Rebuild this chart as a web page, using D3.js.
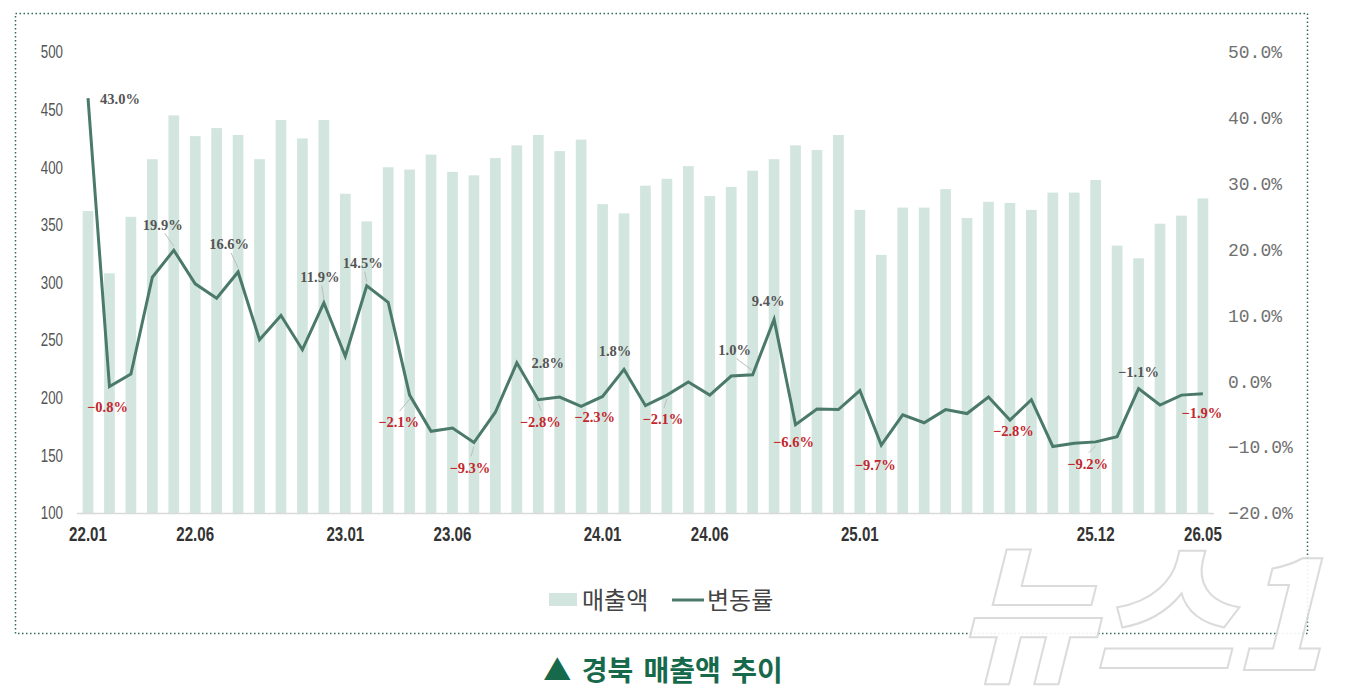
<!DOCTYPE html>
<html><head><meta charset="utf-8">
<script src="https://cdn.jsdelivr.net/npm/d3@7"></script>
<style>
html,body{margin:0;padding:0;background:#fff;}
svg{display:block;}
</style></head>
<body>
<svg id="c" width="1348" height="688"></svg>
<script>
const months = ["22.01","22.02","22.03","22.04","22.05","22.06","22.07","22.08","22.09","22.10","22.11","22.12",
"23.01","23.02","23.03","23.04","23.05","23.06","23.07","23.08","23.09","23.10","23.11","23.12",
"24.01","24.02","24.03","24.04","24.05","24.06","24.07","24.08","24.09","24.10","24.11","24.12",
"25.01","25.02","25.03","25.04","25.05","25.06","25.07","25.08","25.09","25.10","25.11","25.12",
"26.01","26.02","26.03","26.04","26.05"];
const sales = [362,308,357,407,445,427,434,428,407,441,425,441,
377,353,400,398,411,396,393,408,419,428,414,424,
368,360,384,390,401,375,383,397,407,419,415,428,
363,324,365,365,381,356,370,369,363,378,378,389,
332,321,351,358,373];
const rate = [43.0,-0.8,1.1,15.8,19.9,14.8,12.6,16.6,6.3,10.0,4.8,11.9,
3.8,14.5,12.0,-2.1,-7.6,-7.1,-9.3,-4.7,2.8,-2.8,-2.4,-3.8,
-2.3,1.8,-3.7,-2.1,-0.1,-2.1,0.8,1.0,9.4,-6.6,-4.2,-4.3,
-1.4,-9.7,-5.1,-6.3,-4.3,-4.9,-2.4,-5.9,-2.8,-9.9,-9.4,-9.2,
-8.4,-1.1,-3.6,-2.1,-1.9];
const xTickLabels = ["22.01","22.06","23.01","23.06","24.01","24.06","25.01","25.12","26.05"];
const leftTicks = [100,150,200,250,300,350,400,450,500];
const rightTicks = [-20,-10,0,10,20,30,40,50];
const labeledIdx = [0,1,4,7,11,13,15,18,20,21,24,25,27,31,32,33,37,44,47,49,52];

// label styling (offsets from point, leader flag)
const labelStyle = {
 0:{dx:32,dy:3}, 1:{dx:-2,dy:22}, 4:{dx:-11,dy:-24,lead:true}, 7:{dx:-9,dy:-26,lead:true},
 11:{dx:-4,dy:-24,lead:true}, 13:{dx:-4,dy:-21,lead:true}, 15:{dx:-11,dy:29,lead:true},
 18:{dx:-4,dy:27,lead:true}, 20:{dx:31,dy:2}, 21:{dx:2,dy:24,lead:true}, 24:{dx:-8,dy:22},
 25:{dx:-9,dy:-17}, 27:{dx:-4,dy:26,lead:true}, 31:{dx:-18,dy:-23,lead:true}, 32:{dx:-6,dy:-17},
 33:{dx:-2,dy:19}, 37:{dx:-6,dy:22}, 44:{dx:-18,dy:33}, 47:{dx:-8,dy:24,lead:true},
 49:{dx:0,dy:-15}, 52:{dx:-1,dy:21}
};

const svg = d3.select("#c");

// frame
svg.append("rect").attr("x",15.5).attr("y",13.5).attr("width",1292).attr("height",620)
  .attr("fill","none").attr("stroke","#2f6b5b").attr("stroke-width",1.5).attr("stroke-dasharray","1.5,2.5");

// watermark
svg.append("text").attr("x",1140).attr("y",670).attr("text-anchor","middle")
  .attr("font-family","Noto Sans CJK KR").attr("font-weight","900").attr("font-style","italic")
  .attr("font-size",150).attr("fill","#fff").attr("stroke","#d8d8d8").attr("stroke-width",2)
  .attr("opacity",0.9).text("뉴스1");

const x = d3.scaleBand().domain(months).range([77.3,1213.6]).paddingInner(0.5).paddingOuter(0.25);
const yL = d3.scaleLinear().domain([100,500]).range([513,52]);
const yR = d3.scaleLinear().domain([-20,50]).range([513,52]);
const cx = i => x(months[i]) + x.bandwidth()/2;

// bars
svg.append("g").selectAll("rect").data(sales).join("rect")
  .attr("x",(d,i)=>x(months[i])).attr("width",x.bandwidth())
  .attr("y",d=>yL(d)).attr("height",d=>yL(100)-yL(d))
  .attr("fill","#d2e6df");

// baseline
svg.append("line").attr("x1",77).attr("x2",1214).attr("y1",513.5).attr("y2",513.5)
  .attr("stroke","#d9d9d9").attr("stroke-width",1.5);

// left axis
const gL = svg.append("g").attr("transform","translate(63,0)")
  .call(d3.axisLeft(yL).tickValues(leftTicks).tickSize(0).tickPadding(0));
gL.select(".domain").remove();
gL.selectAll("text").attr("font-family","'Liberation Sans',sans-serif")
  .attr("font-size",18).attr("fill","#555").attr("transform","scale(0.74,1)");

// right axis
const gR = svg.append("g").attr("transform","translate(1226,0)")
  .call(d3.axisRight(yR).tickValues(rightTicks).tickSize(0).tickPadding(2).tickFormat(d=>d3.format(".1f")(d)+"%"));
gR.select(".domain").remove();
gR.selectAll("text").attr("font-family","'Liberation Mono','DejaVu Sans Mono',monospace")
  .attr("font-size",18).attr("fill","#707070");

// x axis
const gX = svg.append("g").attr("transform","translate(0,514)")
  .call(d3.axisBottom(x).tickValues(xTickLabels).tickSize(0).tickPadding(12));
gX.select(".domain").remove();
gX.selectAll("text").attr("font-family","'Liberation Sans',sans-serif")
  .attr("font-weight","bold").attr("font-size",21).attr("fill","#333")
  .style("transform","scaleX(0.72)").style("transform-box","fill-box").style("transform-origin","center");

// line
const line = d3.line().x((d,i)=>cx(i)).y(d=>yR(d));
svg.append("path").datum(rate).attr("d",line).attr("fill","none")
  .attr("stroke","#4b7a6b").attr("stroke-width",3).attr("stroke-linejoin","miter");

// data labels
const gLab = svg.append("g");
labeledIdx.forEach(i=>{
  const s = labelStyle[i];
  const px = cx(i), py = yR(rate[i]);
  const lx = px + s.dx, ly = py + s.dy;
  if (s.lead) {
    const up = s.dy < 0;
    gLab.append("line").attr("x1",lx + (up?2:1)).attr("y1", up? ly+7 : ly-13)
      .attr("x2", px).attr("y2", up? py-4 : py+4)
      .attr("stroke","#bdbdbd").attr("stroke-width",1);
  }
  const v = rate[i];
  const neg = v < 0 && i !== 49;
  gLab.append("text").attr("x",lx).attr("y",ly).attr("text-anchor","middle").attr("dominant-baseline","middle")
    .attr("font-family","'Liberation Serif','DejaVu Serif',serif").attr("font-weight","bold")
    .attr("font-size",14.5).attr("fill", neg ? "#c4262e" : "#555")
    .text(d3.format(".1f")(v) + "%");
});

// legend
svg.append("rect").attr("x",549).attr("y",593).attr("width",28).attr("height",13).attr("fill","#d2e6df");
svg.append("text").attr("x",582).attr("y",609).attr("font-family","'Noto Sans CJK KR',sans-serif")
  .attr("font-size",24).attr("fill","#444").text("매출액");
svg.append("line").attr("x1",672).attr("x2",704).attr("y1",600).attr("y2",600).attr("stroke","#4b7a6b").attr("stroke-width",3);
svg.append("text").attr("x",707).attr("y",609).attr("font-family","'Noto Sans CJK KR',sans-serif")
  .attr("font-size",24).attr("fill","#444").text("변동률");

// title
svg.append("text").attr("x",663).attr("y",681).attr("text-anchor","middle")
  .attr("font-family","'Noto Sans CJK KR',sans-serif").attr("font-weight","bold").attr("word-spacing",4)
  .attr("font-size",28).attr("fill","#17694b").text("▲ 경북 매출액 추이");
</script>
</body></html>
